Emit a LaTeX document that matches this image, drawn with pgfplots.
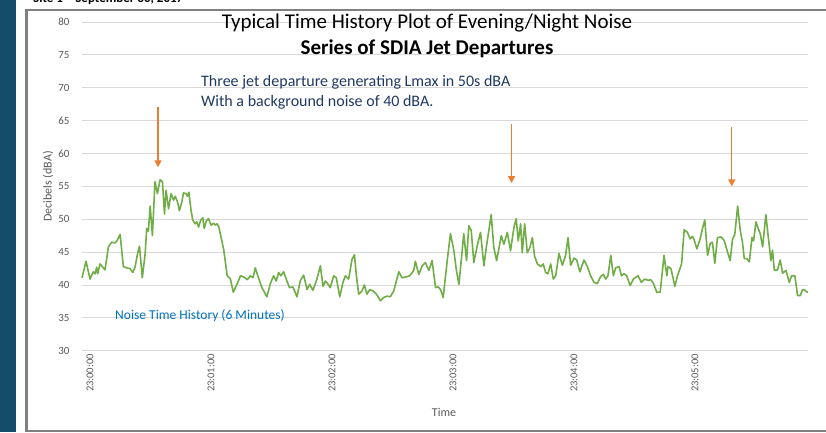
\documentclass[border=0pt]{standalone}
\usepackage{pgfplots}
\pgfplotsset{compat=1.18}
\usepackage{pgfplotstable}
\usepackage{fontspec}
\setmainfont{Carlito}
\usetikzlibrary{arrows.meta}
\definecolor{stripe}{RGB}{20,76,106}
\definecolor{lgreen}{RGB}{112,173,71}
\definecolor{orng}{RGB}{237,125,49}
\definecolor{navy}{RGB}{32,56,100}
\definecolor{nblue}{RGB}{0,112,192}
\definecolor{tgray}{RGB}{89,89,89}
\definecolor{gridc}{RGB}{217,217,217}
\definecolor{bord}{RGB}{128,128,128}

\pgfplotstableread{
s db
0 41.1
2 43.6
4 40.9
5.6 42.0
6.5 41.7
7.3 42.7
7.8 41.7
8.9 43.2
10.3 42.7
11.4 42.3
13.1 45.8
14.7 46.5
16.4 46.4
17.5 46.8
18.9 47.7
20.5 42.8
22.2 42.6
23.8 42.5
25.2 41.9
26.3 42.7
27.5 44.7
28.5 45.9
29.9 41.1
31.3 44.7
32.1 48.6
32.9 48.2
33.8 52.0
34.9 47.5
36.2 55.7
37.4 53.9
38.7 56.0
39.9 55.7
40.9 50.8
41.7 54.4
42.9 51.6
44.2 53.9
45.4 52.9
46.2 53.5
47.4 52.6
48.3 51.3
49.5 52.6
50.3 54.0
51.6 53.9
52.3 53.5
53.0 54.1
54.1 51.3
54.9 49.9
56.1 49.3
56.9 49.6
57.8 48.8
58.9 49.9
59.9 50.2
60.6 48.6
61.6 49.7
62.7 50.1
64.0 49.1
65.2 49.4
66.1 49.1
66.9 49.3
67.8 48.9
70.3 45.3
72.0 41.4
73.6 40.9
75.0 38.9
77.0 40.2
78.6 41.4
80.3 41.2
82.0 40.8
83.4 41.4
84.8 41.1
85.9 42.6
87.5 41.1
89.2 39.6
91.7 38.2
93.3 40.1
95.0 41.4
96.3 40.6
97.5 41.9
98.6 41.4
100.0 42.0
101.6 40.6
102.9 39.6
104.6 39.7
106.6 38.2
108.2 40.6
109.9 41.5
111.6 39.3
112.9 40.1
114.5 39.2
116.2 40.6
118.2 42.9
119.5 39.8
120.7 40.6
121.8 40.2
123.1 39.6
124.8 41.4
126.1 41.1
127.8 38.2
129.4 40.4
130.6 41.4
132.2 40.9
133.9 43.9
135.1 44.6
136.0 41.6
137.2 38.6
138.9 39.1
140.0 40.0
141.3 38.6
142.7 39.3
144.3 39.1
146.0 38.6
148.0 37.6
149.6 38.1
151.3 38.3
152.9 38.2
154.6 39.1
155.7 40.4
157.1 42.0
158.7 41.1
160.4 41.2
162.5 41.4
164.5 42.2
165.3 43.6
167.0 41.6
168.7 42.9
170.3 43.4
172.0 42.2
173.6 43.7
175.3 39.6
176.6 39.7
177.8 39.3
179.1 38.1
181.1 43.7
182.7 47.8
184.4 45.2
185.7 42.1
186.9 40.1
188.2 44.2
189.3 47.8
190.7 43.7
191.8 49.0
193.0 48.3
194.3 43.4
196.0 46.0
197.6 48.0
199.3 42.9
200.6 46.0
201.8 48.4
202.9 50.7
204.2 45.7
205.6 43.7
206.7 45.5
207.9 47.5
209.2 46.2
210.9 48.0
212.5 45.2
214.2 48.8
215.3 50.1
216.3 46.7
217.5 49.3
218.3 44.9
219.5 49.3
220.8 44.9
222.1 45.7
223.3 47.2
224.4 44.4
225.8 43.2
227.4 42.8
228.7 43.2
229.9 41.9
231.0 41.7
232.4 43.2
233.7 40.9
234.9 41.4
236.5 44.8
238.2 43.0
239.8 44.5
241.0 47.2
242.3 43.0
244.0 44.1
245.3 43.8
246.9 42.0
248.9 43.8
250.6 42.8
252.2 41.4
253.9 40.4
255.5 40.2
257.2 41.3
258.5 41.6
259.7 40.9
260.8 41.4
262.2 44.5
263.5 41.4
264.6 42.6
266.3 42.8
267.5 41.4
268.8 41.7
270.1 41.4
271.8 39.9
273.4 40.9
275.7 41.4
277.4 40.4
279.0 40.9
280.7 40.7
282.0 40.8
283.4 40.2
285.0 38.9
286.7 38.9
288.6 44.5
290.0 41.4
290.6 42.8
292.0 42.5
294.0 39.8
295.3 41.4
297.3 43.2
298.6 48.4
300.2 48.0
301.6 47.0
302.7 47.4
303.5 46.9
304.9 45.5
306.5 47.0
307.7 48.6
308.8 49.9
310.2 44.5
311.5 46.3
312.6 46.5
313.8 43.3
315.1 47.2
316.8 47.3
318.4 46.8
320.1 45.0
321.4 43.7
322.6 47.0
323.7 47.7
325.1 52.0
326.4 48.3
327.5 46.5
328.4 44.0
329.7 44.0
330.9 43.5
332.2 47.2
333.0 46.7
334.2 49.6
335.3 48.6
336.3 47.8
337.5 45.8
339.1 50.7
340.3 47.3
341.6 43.7
342.4 45.3
343.3 42.2
344.9 42.3
346.2 43.8
347.4 41.8
349.1 42.2
350.7 40.4
351.9 41.4
353.5 41.4
354.8 38.4
356.2 38.4
357.3 39.3
358.5 39.2
359.5 38.9
360.0 38.9
}\noisedata

\begin{document}
\begin{tikzpicture}[x=1pt,y=1pt]
\useasboundingbox (0,0) rectangle (826,432);
\fill[stripe] (0,0) rectangle (16,432);
\draw[bord, line width=2.5pt] (26.5,1) rectangle (840,422);
\node[anchor=base west, font=\bfseries\fontsize{13}{15}\selectfont, inner sep=0] at (33,429.5) {Site 1 -- September 30, 2017};
\begin{axis}[
  at={(82pt,81.3pt)}, anchor=south west,
  scale only axis, width=726pt, height=328.7pt,
  xmin=0, xmax=360, ymin=30, ymax=80,
  xtick={0,60,...,300},
  xticklabels={23:00:00,23:01:00,23:02:00,23:03:00,23:04:00,23:05:00},
  ytick={30,35,...,80},
  ymajorgrids, grid style={gridc, line width=0.9pt},
  axis line style={draw=none},
  major tick length=0pt,
  tick label style={font=\fontsize{11}{13}\selectfont, text=tgray},
  xticklabel style={rotate=90, anchor=east, yshift=-8pt, font=\fontsize{10.5}{12}\selectfont},
  yticklabel style={xshift=-9pt},
  /pgf/number format/assume math mode=true,
  xlabel={Time}, ylabel={Decibels (dBA)},
  label style={font=\fontsize{12}{14}\selectfont, text=tgray},
  xlabel style={at={(axis description cs:0.4986,-0.1865)}, anchor=center},
  ylabel style={at={(axis description cs:-0.0468,0.5)}, anchor=center},
  clip=false,
]
\addplot[lgreen, line width=1.6pt, line join=round, mark=none] table[x=s,y=db]{\noisedata};
\draw[orng, line width=1.4pt, -{Triangle[width=7pt,length=7pt]}] (axis cs:37.7,67.1) -- (axis cs:37.7,57.9);
\draw[orng, line width=1.4pt, -{Triangle[width=7pt,length=7pt]}] (axis cs:213,64.5) -- (axis cs:213,55.5);
\draw[orng, line width=1.4pt, -{Triangle[width=7pt,length=7pt]}] (axis cs:322.2,64) -- (axis cs:322.2,55);
\end{axis}
\node[anchor=base, font=\fontsize{21}{24}\selectfont, inner sep=0] at (427,403) {Typical Time History Plot of Evening/Night Noise};
\node[anchor=base, font=\bfseries\fontsize{21}{24}\selectfont, inner sep=0] at (427,377) {Series of SDIA Jet Departures};
\node[anchor=base west, text=navy, font=\fontsize{16}{19}\selectfont, inner sep=0] at (201,345) {Three jet departure generating Lmax in 50s dBA};
\node[anchor=base west, text=navy, font=\fontsize{16}{19}\selectfont, inner sep=0] at (201,326) {With a background noise of 40 dBA.};
\node[anchor=base west, text=nblue, font=\fontsize{13.5}{16}\selectfont, inner sep=0] at (115,113) {Noise Time History (6 Minutes)};
\end{tikzpicture}
\end{document}
